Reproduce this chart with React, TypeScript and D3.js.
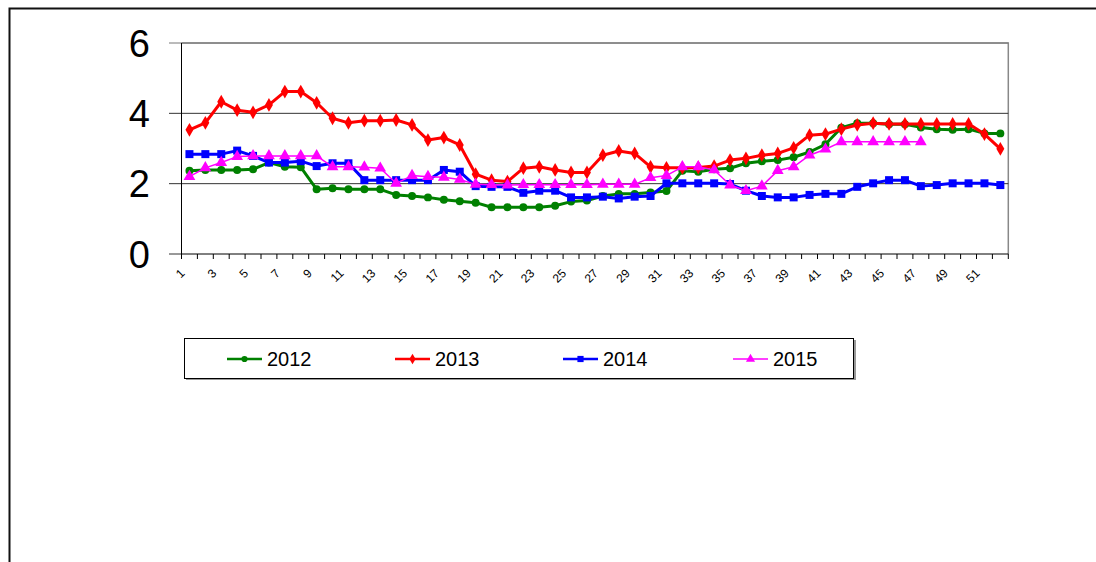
import React from 'react';
import * as d3 from 'd3';

// weekly values
const weeks = d3.range(1, 53);
const years = ['2012', '2013', '2014', '2015'];
const v2012 = [2.37, 2.39, 2.39, 2.39, 2.41, 2.6, 2.48, 2.47, 1.84, 1.87, 1.84, 1.84, 1.84, 1.68, 1.65, 1.61, 1.54, 1.5, 1.46, 1.33, 1.33, 1.33, 1.33, 1.37, 1.49, 1.52, 1.65, 1.71, 1.71, 1.75, 1.79, 2.37, 2.34, 2.41, 2.44, 2.58, 2.64, 2.67, 2.75, 2.9, 3.12, 3.59, 3.72, 3.72, 3.69, 3.69, 3.6, 3.55, 3.53, 3.55, 3.43, 3.43];
const v2013 = [3.53, 3.73, 4.33, 4.09, 4.03, 4.24, 4.62, 4.62, 4.3, 3.86, 3.73, 3.79, 3.79, 3.81, 3.67, 3.24, 3.31, 3.1, 2.27, 2.1, 2.06, 2.44, 2.48, 2.39, 2.32, 2.32, 2.81, 2.93, 2.86, 2.48, 2.45, 2.45, 2.46, 2.5, 2.67, 2.72, 2.81, 2.86, 3.02, 3.38, 3.41, 3.55, 3.67, 3.72, 3.7, 3.7, 3.7, 3.7, 3.7, 3.7, 3.41, 2.99];
const v2014 = [2.84, 2.84, 2.84, 2.94, 2.79, 2.6, 2.6, 2.64, 2.5, 2.58, 2.58, 2.1, 2.1, 2.1, 2.1, 2.1, 2.39, 2.34, 1.93, 1.91, 1.91, 1.74, 1.8, 1.8, 1.61, 1.61, 1.63, 1.58, 1.63, 1.65, 2.01, 2.01, 2.01, 2.01, 1.99, 1.8, 1.65, 1.61, 1.61, 1.68, 1.71, 1.71, 1.91, 2.01, 2.1, 2.1, 1.93, 1.96, 2.01, 2.01, 2.01, 1.96];
const v2015 = [2.2, 2.45, 2.6, 2.77, 2.79, 2.79, 2.79, 2.79, 2.79, 2.48, 2.48, 2.47, 2.44, 2.01, 2.23, 2.2, 2.18, 2.12, 1.98, 1.97, 1.96, 1.97, 1.97, 1.97, 1.97, 1.97, 1.98, 1.98, 1.98, 2.17, 2.23, 2.48, 2.48, 2.39, 1.96, 1.8, 1.93, 2.37, 2.48, 2.81, 2.98, 3.19, 3.19, 3.19, 3.19, 3.19, 3.19];
const yTicks = [0, 2, 4, 6];

const seriesList = [
  { name: years[0], values: v2012, color: '#008000', width: 3, symbol: d3.symbolCircle, size: 50 },
  { name: years[1], values: v2013, color: '#FF0000', width: 3, symbol: d3.symbolDiamond, size: 55 },
  { name: years[2], values: v2014, color: '#0000FF', width: 3, symbol: d3.symbolSquare, size: 64 },
  { name: years[3], values: v2015, color: '#FF00FF', width: 1.5, symbol: d3.symbolTriangle, size: 60 },
];

const App = () => {
  const left = 181.5, right = 1008.3, top = 43, bottom = 254;

  const x = d3.scaleBand<number>().domain(weeks).range([left, right]);
  const y = d3.scaleLinear().domain([0, 6]).range([bottom, top]);
  const cx = (w: number) => (x(w) as number) + x.bandwidth() / 2;

  const line = d3.line<number>()
    .x((_, i) => cx(weeks[i]))
    .y(d => y(d));

  const font = 'Arial, "Liberation Sans", sans-serif';

  // legend layout
  const legendX = [227, 395, 563, 733];

  return (
    <svg width={1096} height={562} style={{ position: 'absolute', left: 0, top: 0 }} fontFamily={font}>
      <rect width={1096} height={562} fill="#fff" />
      {/* outer chart frame */}
      <path d="M9.5,562 V8.5 H1096" fill="none" stroke="#111" strokeWidth={2} />

      {/* plot area border */}
      <path d={`M${left},${top} H${right} V${bottom}`} fill="none" stroke="#888" strokeWidth={1.5} />

      {/* gridlines + y ticks */}
      {yTicks.map(t => (
        <g key={t}>
          <line x1={169} x2={t === 0 ? left : right} y1={y(t)} y2={y(t)} stroke={t === 6 ? '#777' : '#333'} strokeWidth={1} />
          <text x={150} y={y(t)} dy="0.36em" textAnchor="end" fontSize={38}>{t}</text>
        </g>
      ))}

      {/* axes */}
      <line x1={left} x2={left} y1={top} y2={bottom} stroke="#000" strokeWidth={1} />
      <line x1={left} x2={right} y1={bottom} y2={bottom} stroke="#000" strokeWidth={1} />
      {weeks.concat([53]).map((w, i) => {
        const tx = left + i * x.bandwidth();
        return <line key={w} x1={tx} x2={tx} y1={bottom} y2={bottom + 5} stroke="#000" />;
      })}
      {weeks.filter(w => w % 2 === 1).map(w => (
        <text key={w} transform={`translate(${cx(w) - 7},${bottom + 17}) rotate(-45)`}
          textAnchor="end" fontSize={12} dy="0.35em">{w}</text>
      ))}

      {/* series */}
      {seriesList.map(s => (
        <g key={s.name}>
          <path d={line(s.values) || ''} fill="none" stroke={s.color} strokeWidth={s.width} strokeLinejoin="round" />
          {s.values.map((v, i) => (
            <path key={i} transform={`translate(${cx(weeks[i])},${y(v)})`}
              d={d3.symbol().type(s.symbol).size(s.size)() || ''} fill={s.color} />
          ))}
        </g>
      ))}

      {/* legend */}
      <rect x={186} y={340} width={670} height={40} fill="#999" />
      <rect x={184.5} y={338.5} width={669} height={40} fill="#fff" stroke="#000" strokeWidth={1} />
      {seriesList.map((s, i) => (
        <g key={s.name} transform={`translate(${legendX[i]},359)`}>
          <line x1={0} x2={35} stroke={s.color} strokeWidth={s.width === 3 ? 2.5 : 1.5} />
          <path transform="translate(17.5,0)" d={d3.symbol().type(s.symbol).size(s.size * 0.6)() || ''} fill={s.color} />
          <text x={40} dy="0.36em" fontSize={20}>{s.name}</text>
        </g>
      ))}
    </svg>
  );
};

export default App;
